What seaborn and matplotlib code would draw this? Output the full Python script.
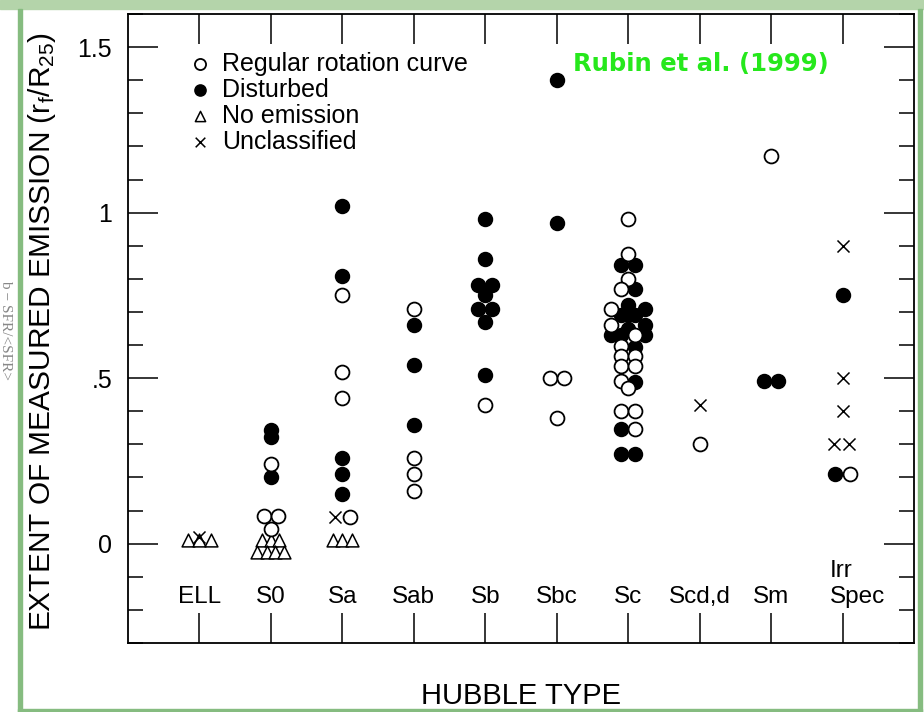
import numpy as np
import pandas as pd
import matplotlib
matplotlib.use("Agg")
import matplotlib.pyplot as plt
import seaborn as sns
from matplotlib.patches import Rectangle
from matplotlib.ticker import MultipleLocator, NullLocator
from matplotlib.transforms import ScaledTranslation

# 스타일 설정
sns.set_style("ticks")
plt.rcParams["font.family"] = ["Liberation Sans", "DejaVu Sans"]
plt.rcParams["mathtext.fontset"] = "custom"
plt.rcParams["mathtext.rm"] = "Liberation Sans"
plt.rcParams["mathtext.it"] = "Liberation Sans"
plt.rcParams["text.color"] = "black"
plt.rcParams["axes.labelcolor"] = "black"

# 허블 타입 (x축 범주)
hubble_types = ["ELL", "S0", "Sa", "Sab", "Sb", "Sbc", "Sc", "Scd,d", "Sm", "Irr\nSpec"]

# Regular rotation curve (열린 원)
regular_type = [1, 1, 1, 1,
                2, 2, 2, 2,
                3, 3, 3, 3,
                4,
                5, 5, 5,
                6, 6, 6, 6, 6, 6, 6, 6, 6, 6, 6, 6, 6, 6, 6, 6, 6,
                7, 8, 9]
regular_shift = [0, -0.1, 0.1, 0,
                 0, 0, 0, 0.1,
                 0, 0, 0, 0,
                 0,
                 -0.1, 0.1, 0,
                 0, 0, 0, -0.1, -0.24, -0.24, 0.1, -0.1, -0.1, 0.1, -0.1, 0.1, -0.1, 0, -0.1, 0.1, 0.1,
                 0, 0, 0.1]
regular_extent = [0.24, 0.085, 0.085, 0.045,
                  0.75, 0.52, 0.44, 0.08,
                  0.71, 0.26, 0.21, 0.16,
                  0.42,
                  0.50, 0.50, 0.38,
                  0.98, 0.875, 0.80, 0.77, 0.71, 0.66, 0.63, 0.597, 0.567, 0.567, 0.536, 0.536, 0.49, 0.47, 0.40, 0.40, 0.346,
                  0.30, 1.17, 0.21]

# Disturbed (채워진 원)
disturbed_type = [1, 1, 1,
                  2, 2, 2, 2, 2,
                  3, 3, 3,
                  4, 4, 4, 4, 4, 4, 4, 4, 4,
                  5, 5,
                  6, 6, 6, 6, 6, 6, 6, 6, 6, 6, 6, 6, 6, 6, 6, 6, 6, 6,
                  8, 8, 9, 9]
disturbed_shift = [0, 0, 0,
                   0, 0, 0, 0, 0,
                   0, 0, 0,
                   0, 0, -0.1, 0.1, 0, -0.1, 0.1, 0, 0,
                   0, 0,
                   -0.1, 0.1, 0.1, 0, 0.24, -0.1, 0.1, 0, 0.24, -0.24, -0.1, 0.24, 0, 0.1, 0.1, -0.1, -0.1, 0.1,
                   -0.1, 0.1, 0, -0.1]
disturbed_extent = [0.343, 0.322, 0.20,
                    1.02, 0.81, 0.26, 0.21, 0.15,
                    0.66, 0.54, 0.36,
                    0.98, 0.86, 0.78, 0.78, 0.75, 0.71, 0.71, 0.67, 0.51,
                    1.40, 0.97,
                    0.843, 0.843, 0.77, 0.72, 0.71, 0.69, 0.69, 0.69, 0.66, 0.63, 0.63, 0.63, 0.65, 0.593, 0.487, 0.346, 0.27, 0.27,
                    0.49, 0.49, 0.75, 0.21]

# No emission (삼각형)
noemission_type = [0, 0, 0,
                   1, 1, 1, 1, 1, 1, 1,
                   2, 2, 2]
noemission_shift = [-0.16, 0, 0.16,
                    -0.12, 0, 0.12, -0.19, -0.06, 0.06, 0.19,
                    -0.13, 0, 0.13]
noemission_extent = [0.01, 0.01, 0.01,
                     0.01, 0.01, 0.01, -0.025, -0.025, -0.025, -0.025,
                     0.01, 0.01, 0.01]

# Unclassified (x 표시)
unclassified_type = [0, 2, 7, 9, 9, 9, 9, 9]
unclassified_shift = [0, -0.1, 0, 0, 0, 0, -0.12, 0.09]
unclassified_extent = [0.02, 0.08, 0.42, 0.90, 0.50, 0.40, 0.30, 0.30]


def make_frame(types, shifts, values):
    return pd.DataFrame({"hubble": np.array(types) + np.array(shifts), "extent": values})


regular = make_frame(regular_type, regular_shift, regular_extent)
disturbed = make_frame(disturbed_type, disturbed_shift, disturbed_extent)
noemission = make_frame(noemission_type, noemission_shift, noemission_extent)
unclassified = make_frame(unclassified_type, unclassified_shift, unclassified_extent)

# 그림
fig = plt.figure(figsize=(9.24, 7.12), dpi=100)
ax = fig.add_axes([128 / 924, 1 - 643 / 712, 786 / 924, 629 / 712])

sns.scatterplot(data=noemission, x="hubble", y="extent", marker="^", s=85,
                facecolor="white", edgecolor="black", linewidth=1.1,
                label="No emission", zorder=2, ax=ax)
sns.scatterplot(data=unclassified, x="hubble", y="extent", marker="x", s=75,
                color="black", linewidth=1.1, label="Unclassified", zorder=2, ax=ax)
sns.scatterplot(data=disturbed, x="hubble", y="extent", marker="o", s=100,
                facecolor="black", edgecolor="black", linewidth=1.1,
                label="Disturbed", zorder=3, ax=ax)
sns.scatterplot(data=regular, x="hubble", y="extent", marker="o", s=100,
                facecolor="white", edgecolor="black", linewidth=1.3,
                label="Regular rotation curve", zorder=4, ax=ax)

# 축 범위와 눈금
ax.set_xlim(-1, 10)
ax.set_ylim(-0.3, 1.6)
ax.set_xticks(range(len(hubble_types)))
ax.set_xticklabels(hubble_types, linespacing=1.25)
ax.xaxis.set_minor_locator(NullLocator())
ax.set_yticks([0, 0.5, 1, 1.5])
ax.set_yticklabels(["0", ".5", "1", "1.5"])
ax.yaxis.set_minor_locator(MultipleLocator(0.1))

ax.tick_params(axis="y", which="both", direction="in", left=True, right=True,
               width=1.1, labelsize=18, pad=11.5, colors="black")
ax.tick_params(axis="y", which="major", length=21.6)
ax.tick_params(axis="y", which="minor", length=10.8)
ax.tick_params(axis="x", which="major", direction="in", top=True, bottom=True,
               length=21.6, width=1.1, labelsize=17.5, pad=-25, colors="black")
for lbl in ax.get_xticklabels():
    lbl.set_verticalalignment("bottom")
last = ax.get_xticklabels()[-1]
last.set_multialignment("left")
last.set_transform(last.get_transform() + ScaledTranslation(0.15, 0, fig.dpi_scale_trans))

for sp in ax.spines.values():
    sp.set_linewidth(1.3)
    sp.set_color("black")

# 축 제목
ax.set_xlabel("HUBBLE TYPE", fontsize=21)
ax.xaxis.set_label_coords(0.5, -0.062)
ax.set_ylabel(r"EXTENT OF MEASURED EMISSION $\mathregular{(r_f/R_{25})}$", fontsize=21.5)
ax.yaxis.set_label_coords(-0.089, 0.495)

# 범례
handles, labels = ax.get_legend_handles_labels()
order = ["Regular rotation curve", "Disturbed", "No emission", "Unclassified"]
handles = [handles[labels.index(o)] for o in order]
ax.legend(handles, order, loc="upper left", bbox_to_anchor=(0.0757, 0.94),
          frameon=False, fontsize=18, markerscale=0.8, handlelength=1.0,
          handletextpad=0.38, labelspacing=0.08, borderpad=0, borderaxespad=0)

ax.text(0.566, 0.92, "Rubin et al. (1999)", transform=ax.transAxes,
        ha="left", va="center", fontsize=17.5, fontweight="bold",
        color="#26e81c", family=["DejaVu Sans"])

# 슬라이드 테두리
fig.patches.append(Rectangle((0, 1 - 9 / 712), 1, 9 / 712, transform=fig.transFigure,
                             color="#b4d4aa", zorder=0))
fig.patches.append(Rectangle((18 / 924, 0), 4 / 924, 1 - 9 / 712, transform=fig.transFigure,
                             color="#86bc80", zorder=0))
fig.patches.append(Rectangle((918 / 924, 0), 4 / 924, 1 - 9 / 712, transform=fig.transFigure,
                             color="#86bc80", zorder=0))
fig.patches.append(Rectangle((18 / 924, 0), 904 / 924, 3 / 712, transform=fig.transFigure,
                             color="#86bc80", zorder=0))
fig.text(6 / 924, 1 - 330 / 712, "b − SFR/<SFR>", rotation=-90, ha="center", va="center",
         fontsize=11, color="#888888", family=["Liberation Serif", "DejaVu Serif"])

fig.savefig("out.png", dpi=100)
